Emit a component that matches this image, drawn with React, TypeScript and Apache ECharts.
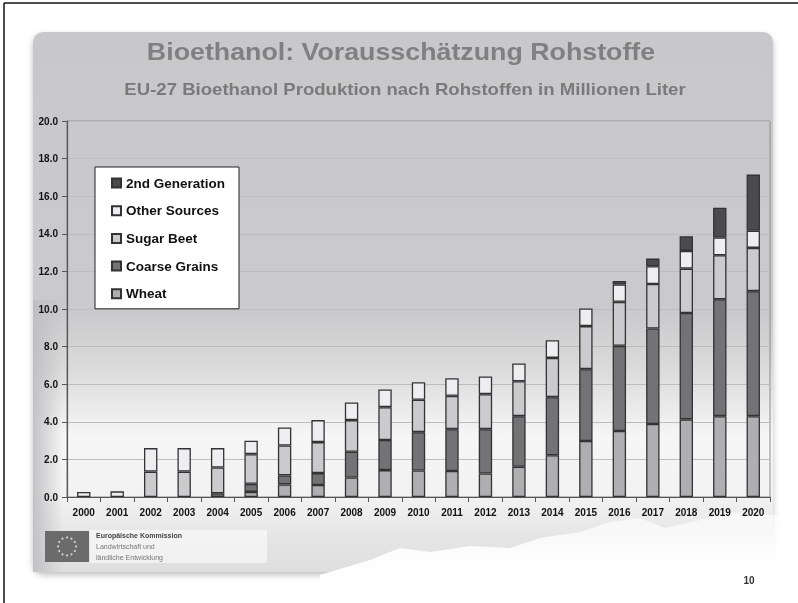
import React, { useEffect, useRef } from "react";
import * as echarts from "echarts";

const years = ["2000","2001","2002","2003","2004","2005","2006","2007","2008","2009","2010","2011","2012","2013","2014","2015","2016","2017","2018","2019","2020"];
const wheat = [0,0,0,0,0,0.27,0.67,0.64,1.04,1.43,1.41,1.38,1.25,1.61,2.22,2.98,3.51,3.88,4.13,4.30,4.30];
const coarseGrains = [0,0,0,0,0.2,0.43,0.48,0.63,1.37,1.60,2.04,2.23,2.36,2.69,3.09,3.82,4.53,5.08,5.66,6.22,6.65];
const sugarBeet = [0,0,1.35,1.35,1.37,1.58,1.59,1.65,1.68,1.75,1.72,1.77,1.86,1.86,2.09,2.29,2.34,2.37,2.36,2.34,2.30];
const otherSources = [0.27,0.3,1.25,1.25,1.03,0.71,0.96,1.17,0.94,0.94,0.94,0.94,0.94,0.94,0.94,0.94,0.92,0.94,0.94,0.94,0.92];
const secondGeneration = [0,0,0,0,0,0,0,0,0,0,0,0,0,0,0,0,0.19,0.41,0.78,1.59,2.98];

const seriesNames = ["Wheat","Coarse Grains","Sugar Beet","Other Sources","2nd Generation"];
const seriesColors = ["#afafb1","#737375","#cbcbcd","#eeeef0","#4b4b4d"];
const seriesData = [wheat, coarseGrains, sugarBeet, otherSources, secondGeneration];

const title = "Bioethanol: Vorausschätzung Rohstoffe";
const subtitle = "EU-27 Bioethanol Produktion nach Rohstoffen in Millionen Liter";
const FONT = "'Liberation Sans', Arial, sans-serif";

export default function App() {
  const ref = useRef<HTMLDivElement>(null);
  useEffect(() => {
    if (!ref.current) return;
    const chart = echarts.init(ref.current, null, { renderer: "svg" });
    const stars: any[] = [];
    for (let i = 0; i < 12; i++) {
      const a = (i / 12) * Math.PI * 2;
      stars.push({ type: "circle", z: -5, shape: { cx: 67 + 9 * Math.cos(a), cy: 546.5 + 9 * Math.sin(a), r: 1 }, style: { fill: "#d8d8d8" } });
    }
    chart.setOption({
      animation: false,
      textStyle: { fontFamily: FONT },
      graphic: [
        { type: "rect", z: -20, shape: { x: 0, y: 0, width: 798, height: 603 }, style: { fill: "#ffffff" } },
        { type: "line", z: -19, shape: { x1: 4, y1: 3, x2: 798, y2: 3 }, style: { stroke: "#111", lineWidth: 1.5 } },
        { type: "line", z: -19, shape: { x1: 4, y1: 3, x2: 4, y2: 603 }, style: { stroke: "#111", lineWidth: 1.5 } },
        {
          type: "rect", z: -18,
          shape: { x: 33, y: 32, width: 740, height: 540, r: 10 },
          style: {
            fill: new echarts.graphic.LinearGradient(0, 0, 0, 1, [
              { offset: 0, color: "#c8c8ca" },
              { offset: 0.52, color: "#cacacc" },
              { offset: 0.62, color: "#dadada" },
              { offset: 0.75, color: "#f6f6f6" },
              { offset: 0.86, color: "#f2f2f2" },
              { offset: 0.93, color: "#e6e6e6" },
              { offset: 1, color: "#dedede" },
            ]),
            shadowBlur: 6, shadowOffsetY: 3, shadowColor: "rgba(0,0,0,0.25)",
          },
        },
        {
          type: "rect", z: -17,
          shape: { x: 33, y: 300, width: 30, height: 272 },
          style: {
            fill: new echarts.graphic.LinearGradient(0, 0, 1, 0, [
              { offset: 0, color: "rgba(190,190,192,0.9)" },
              { offset: 1, color: "rgba(190,190,192,0)" },
            ]),
          },
        },
        {
          type: "polygon", z: -16,
          shape: { points: [[320, 575], [370, 560], [400, 548], [430, 552], [470, 546], [510, 548], [540, 538], [580, 532], [610, 522], [640, 518], [665, 528], [700, 520], [730, 512], [775, 515], [798, 520], [798, 603], [320, 603]] },
          style: {
            fill: new echarts.graphic.LinearGradient(0, 0, 0, 1, [
              { offset: 0, color: "rgba(255,255,255,0.55)" },
              { offset: 0.5, color: "rgba(255,255,255,0.95)" },
              { offset: 1, color: "rgba(255,255,255,1)" },
            ]),
          },
        },
        { type: "rect", z: -5, shape: { x: 45, y: 531, width: 44, height: 31 }, style: { fill: "#6b6b6b" } },
        ...stars,
        { type: "rect", z: -6, shape: { x: 90, y: 530, width: 177, height: 33 }, style: { fill: "rgba(255,255,255,0.55)" } },
        { type: "text", z: -4, x: 96, y: 535, style: { text: "Europäische Kommission", font: `bold 7px ${FONT}`, fill: "#444", textVerticalAlign: "middle" } },
        { type: "text", z: -4, x: 96, y: 546, style: { text: "Landwirtschaft und", font: `7px ${FONT}`, fill: "#777", textVerticalAlign: "middle" } },
        { type: "text", z: -4, x: 96, y: 557, style: { text: "ländliche Entwicklung", font: `7px ${FONT}`, fill: "#777", textVerticalAlign: "middle" } },
        { type: "text", z: 10, x: 749, y: 580, style: { text: "10", font: `bold 10px ${FONT}`, fill: "#333", textAlign: "center", textVerticalAlign: "middle" } },
        { type: "text", z: 10, x: 401, y: 52, scaleX: 1.14, style: { text: title, font: `bold 23.5px ${FONT}`, fill: "#808080", textAlign: "center", textVerticalAlign: "middle" } },
        { type: "text", z: 10, x: 405, y: 89, scaleX: 1.14, style: { text: subtitle, font: `bold 16.3px ${FONT}`, fill: "#7a7a7a", textAlign: "center", textVerticalAlign: "middle" } },
      ],
      legend: {
        orient: "vertical",
        left: 95,
        top: 167,
        data: [...seriesNames].reverse(),
        backgroundColor: "#ffffff",
        borderColor: "#222",
        borderWidth: 1,
        borderRadius: 0,
        padding: [9, 14, 8, 16],
        itemWidth: 9,
        itemHeight: 9,
        itemGap: 13.7,
        icon: "rect",
        textStyle: { fontFamily: FONT, fontWeight: "bold", fontSize: 13.5, lineHeight: 14, color: "#111" },
      },
      grid: { left: 67, right: 28, top: 121, bottom: 106, show: true, borderColor: "#8c8c8c", borderWidth: 1, backgroundColor: "transparent" },
      xAxis: {
        type: "category",
        data: years,
        axisLine: { lineStyle: { color: "#555", width: 1.2 } },
        axisTick: { show: true, alignWithLabel: false, length: 5, lineStyle: { color: "#555" } },
        axisLabel: { fontFamily: FONT, fontWeight: "bold", fontSize: 10, color: "#111", margin: 10 },
      },
      yAxis: {
        type: "value",
        min: 0,
        max: 20,
        interval: 2,
        axisLine: { show: true, lineStyle: { color: "#555", width: 1.2 } },
        axisTick: { show: true, length: 5, lineStyle: { color: "#555" } },
        axisLabel: { fontFamily: FONT, fontWeight: "bold", fontSize: 10, color: "#111", margin: 9, formatter: (v: number) => v.toFixed(1) },
        splitLine: { show: true, lineStyle: { color: "#bdbdbd", width: 1 } },
      },
      series: seriesNames.map((name, i) => ({
        name,
        type: "bar",
        stack: "total",
        barWidth: "40%",
        itemStyle: { color: seriesColors[i], borderColor: "#333", borderWidth: 1.3 },
        data: seriesData[i].map((v) => (v === 0 ? "-" : v)),
      })),
    });
    return () => chart.dispose();
  }, []);
  return <div ref={ref} style={{ position: "fixed", left: 0, top: 0, width: 798, height: 603 }} />;
}
